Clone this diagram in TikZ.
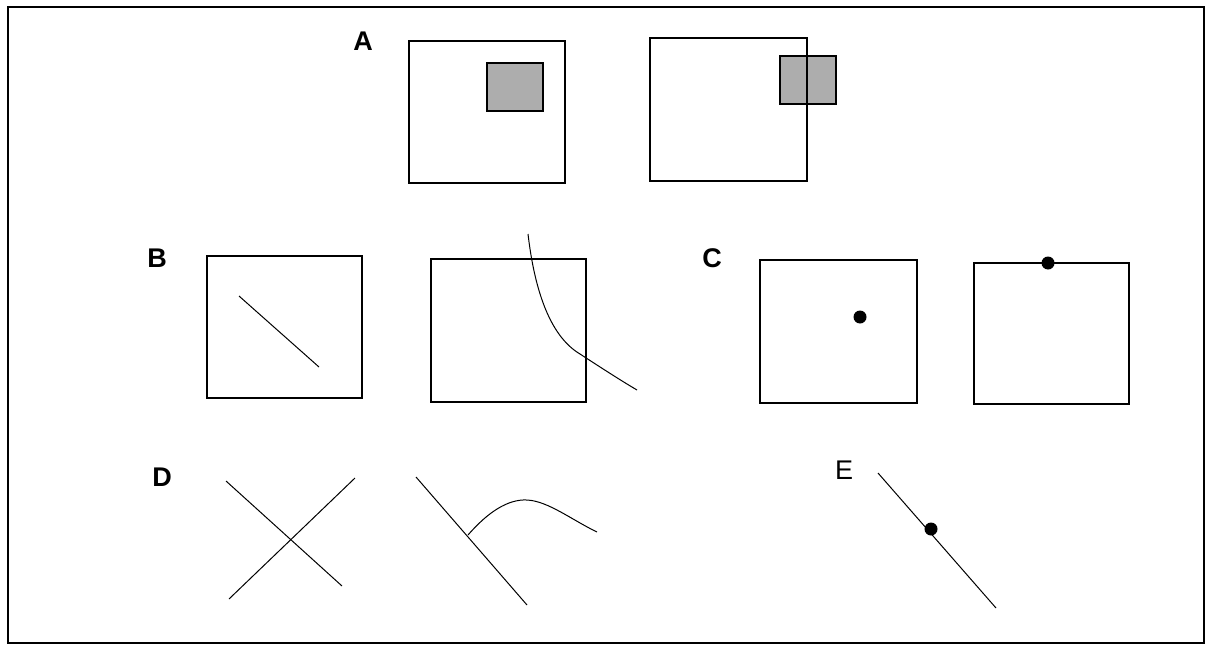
\documentclass[tikz,border=0pt]{standalone}
\usepackage{fontspec}
\setmainfont{Liberation Sans}
\begin{document}
\begin{tikzpicture}[x=1pt,y=-1pt,
  frame/.style={draw=black,line width=2pt},
  boxsq/.style={draw=black,line width=1.6pt},
  thinline/.style={draw=black,line width=1pt},
  shade/.style={fill=black!32,draw=black,line width=1.6pt},
  dotmark/.style={fill=black},
  lbl/.style={font=\fontsize{27}{29}\selectfont\bfseries,inner sep=0pt},
  lblr/.style={font=\fontsize{27}{29}\selectfont,inner sep=0pt}]
\useasboundingbox (0,0) rectangle (1210,645);
\fill[white] (0,0) rectangle (1210,645);
\draw[frame] (8,7) rectangle (1204,643);
% labels
\node[lbl] (la) at (363,41) {A};
\node[lbl] (lb) at (157,258) {B};
\node[lbl] (lc) at (712,258) {C};
\node[lbl] (ld) at (162,477) {D};
\node[lblr] (le) at (844,470) {E};
% A
\draw[boxsq] (409,41) rectangle (565,183);
\draw[shade] (487,63) rectangle (543,111);
\fill[black!32] (780,56) rectangle (836,104);
\draw[boxsq] (650,38) rectangle (807,181);
\draw[draw=black,line width=1.3pt] (780,56) rectangle (836,104);
% B
\draw[boxsq] (207,256) rectangle (362,398);
\coordinate (b1s) at (239,296);
\coordinate (b1e) at (319,367);
\draw[thinline] (b1s) -- (b1e);
\draw[boxsq] (431,259) rectangle (586,402);
\coordinate (b2s) at (528,234);
\coordinate (b2m) at (580,354);
\coordinate (b2e) at (637,390);
\draw[thinline] (b2s) .. controls (534,285) and (548,335) .. (b2m)
  .. controls (600,367) and (620,380) .. (b2e);
% C
\draw[boxsq] (760,260) rectangle (917,403);
\fill[dotmark] (860,317) circle (6.5);
\draw[boxsq] (974,263) rectangle (1129,404);
\fill[dotmark] (1048,263) circle (6.5);
% D
\coordinate (d1a) at (226,481);
\coordinate (d1b) at (342,586);
\coordinate (d2a) at (229,599);
\coordinate (d2b) at (355,478);
\draw[thinline] (d1a) -- (d1b);
\draw[thinline] (d2a) -- (d2b);
\coordinate (d3a) at (416,477);
\coordinate (d3b) at (527,605);
\draw[thinline] (d3a) -- (d3b);
\coordinate (d4a) at (468,535);
\coordinate (d4m) at (527,500);
\coordinate (d4b) at (597,532);
\draw[thinline] (d4a) .. controls (488,512) and (508,499) .. (d4m)
  .. controls (548,501) and (572,520) .. (d4b);
% E
\coordinate (ea) at (878,473);
\coordinate (eb) at (996,608);
\draw[thinline] (ea) -- (eb);
\fill[dotmark] (931,529) circle (6.5);
\end{tikzpicture}
\end{document}
